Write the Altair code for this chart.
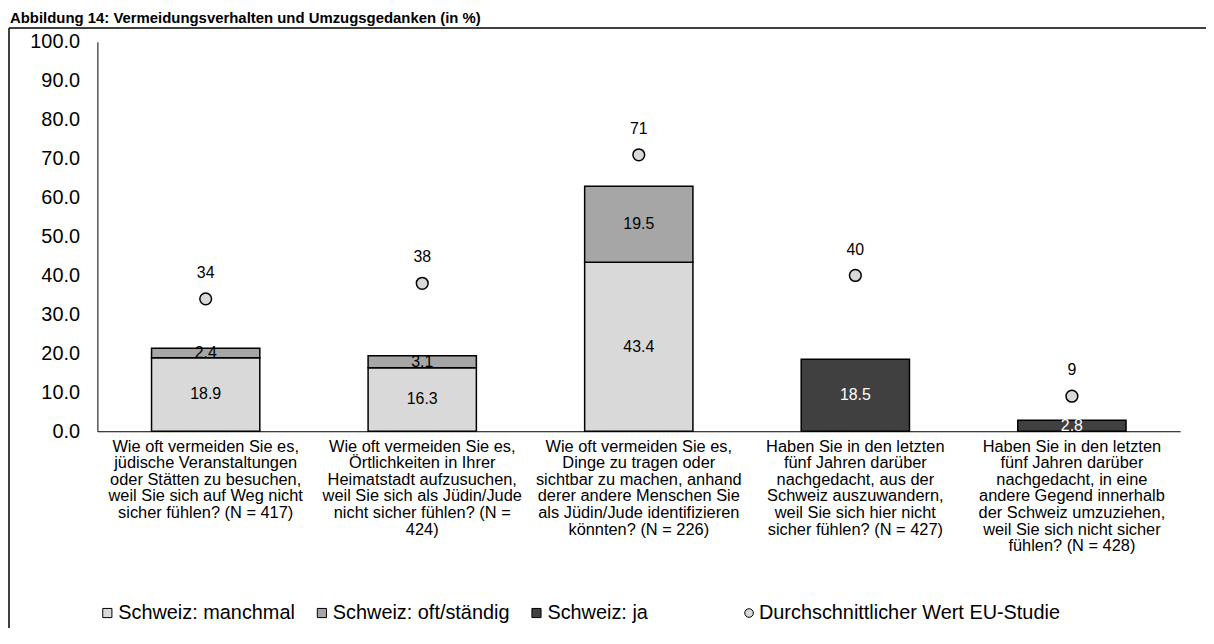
import altair as alt
import pandas as pd

categories = [
    "Wie oft vermeiden Sie es,|jüdische Veranstaltungen|oder Stätten zu besuchen,|weil Sie sich auf Weg nicht|sicher fühlen? (N = 417)",
    "Wie oft vermeiden Sie es,|Örtlichkeiten in Ihrer|Heimatstadt aufzusuchen,|weil Sie sich als Jüdin/Jude|nicht sicher fühlen? (N =|424)",
    "Wie oft vermeiden Sie es,|Dinge zu tragen oder|sichtbar zu machen, anhand|derer andere Menschen Sie|als Jüdin/Jude identifizieren|könnten? (N = 226)",
    "Haben Sie in den letzten|fünf Jahren darüber|nachgedacht, aus der|Schweiz auszuwandern,|weil Sie sich hier nicht|sicher fühlen? (N = 427)",
    "Haben Sie in den letzten|fünf Jahren darüber|nachgedacht, in eine|andere Gegend innerhalb|der Schweiz umzuziehen,|weil Sie sich nicht sicher|fühlen? (N = 428)",
]
series_names = ["Schweiz: manchmal", "Schweiz: oft/ständig", "Schweiz: ja"]
series_colors = ["#D9D9D9", "#A6A6A6", "#404040"]
manchmal = [18.9, 16.3, 43.4, None, None]
oft = [2.4, 3.1, 19.5, None, None]
ja = [None, None, None, 18.5, 2.8]
eu_label = "Durchschnittlicher Wert EU-Studie"
eu_values = [34, 38, 71, 40, 9]
y_ticks = [0, 10, 20, 30, 40, 50, 60, 70, 80, 90, 100]
title_text = "Abbildung 14: Vermeidungsverhalten und Umzugsgedanken (in %)"

rows = []
for i, cat in enumerate(categories):
    for order, (name, vals) in enumerate(zip(series_names, [manchmal, oft, ja])):
        if vals[i] is not None:
            rows.append({"category": cat, "series": name, "order": order, "value": vals[i]})
bars_df = pd.DataFrame(rows)
eu_df = pd.DataFrame({"category": categories, "eu": eu_values, "legend": [eu_label] * len(categories)})

x_axis = alt.Axis(
    title=None, labelAngle=0, ticks=False, tickSize=0, domainColor="black", domainWidth=1,
    labelFontSize=16.5, labelLineHeight=16.7, labelPadding=7, labelLimit=400,
    labelColor="black", labelExpr="split(datum.label, '|')", labelOverlap=False,
)
x_scale = alt.Scale(paddingInner=0.5, paddingOuter=0.25)
y_axis = alt.Axis(
    title=None, values=y_ticks, format=".1f", grid=False,
    ticks=False, tickSize=0, domainColor="black", domainWidth=1,
    labelFontSize=20, labelPadding=18, labelColor="black", labelOverlap=False,
)
y_scale = alt.Scale(domain=[0, 100], nice=False)


def xenc():
    return alt.X("category:N", sort=categories, scale=x_scale, axis=x_axis)


base_bars = alt.Chart(bars_df).transform_stack(
    stack="value", groupby=["category"], as_=["y0", "y1"],
    sort=[alt.SortField("order", order="ascending")],
).transform_calculate(mid="(datum.y0 + datum.y1) / 2")

bars = base_bars.mark_bar(stroke="black", strokeWidth=1.5).encode(
    x=xenc(),
    y=alt.Y("y0:Q", scale=y_scale, axis=y_axis),
    y2="y1:Q",
    fill=alt.Fill(
        "series:N",
        scale=alt.Scale(domain=series_names, range=series_colors),
        legend=alt.Legend(
            title=None, orient="none", legendX=0, legendY=565, direction="horizontal",
            symbolType="square", symbolSize=85, symbolStrokeColor="black", symbolStrokeWidth=1,
            labelFontSize=20, labelColor="black", labelLimit=400, labelOffset=1,
            gridAlign="all", columnPadding=17,
        ),
    ),
)

bar_text = base_bars.mark_text(fontSize=16, baseline="middle").encode(
    x=xenc(),
    y=alt.Y("mid:Q", scale=y_scale, axis=y_axis),
    text=alt.Text("value:Q", format=".1f"),
    color=alt.condition(alt.datum.series == "Schweiz: ja", alt.value("white"), alt.value("black")),
)

points = alt.Chart(eu_df).mark_point(shape="circle", filled=True, fill="#D9D9D9", strokeWidth=1.5, size=140, opacity=1).encode(
    x=xenc(),
    y=alt.Y("eu:Q", scale=y_scale, axis=y_axis),
    stroke=alt.Stroke(
        "legend:N",
        scale=alt.Scale(domain=[eu_label], range=["black"]),
        legend=alt.Legend(
            title=None, orient="none", legendX=646, legendY=565,
            symbolType="circle", symbolSize=75, symbolFillColor="#D9D9D9",
            symbolStrokeWidth=1, symbolOpacity=1,
            labelFontSize=20, labelColor="black", labelLimit=500, labelOffset=0,
        ),
    ),
)

point_text = alt.Chart(eu_df).mark_text(fontSize=16, dy=-26, baseline="middle", color="black").encode(
    x=xenc(),
    y=alt.Y("eu:Q", scale=y_scale, axis=y_axis),
    text=alt.Text("eu:Q", format="d"),
)

frame_df = pd.DataFrame({"f": [0]})
frame_top = alt.Chart(frame_df).mark_rule(stroke="black", strokeWidth=1.5).encode(
    x=alt.value(-89), x2=alt.value(1200), y=alt.value(-14),
)
frame_left = alt.Chart(frame_df).mark_rule(stroke="black", strokeWidth=1.5).encode(
    x=alt.value(-89), y=alt.value(-14), y2=alt.value(800),
)

title = alt.Chart(pd.DataFrame({"t": [title_text]})).mark_text(
    fontSize=15, fontWeight="bold", align="left", baseline="alphabetic", color="black",
).encode(text="t:N", x=alt.value(-88), y=alt.value(-19))

chart = alt.layer(frame_top, frame_left, title, bars, bar_text, points, point_text).properties(
    width=1090,
    height=392,
    autosize=alt.AutoSizeParams(type="none"),
    padding={"left": 90, "top": 32, "right": 26, "bottom": 196},
).configure(font="Liberation Sans").configure_view(stroke=None).configure_axis(labelOverlap=False)

chart.save("out.html", embed_options={"renderer": "svg", "actions": False})
